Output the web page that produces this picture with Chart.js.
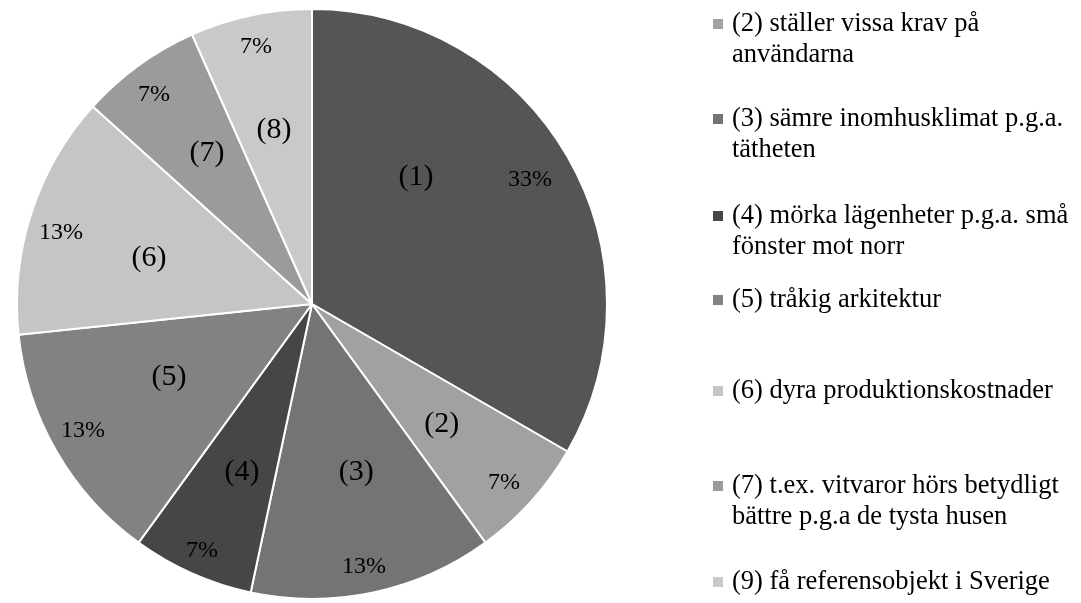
<!DOCTYPE html>
<html>
<head>
<meta charset="utf-8">
<script src="https://cdn.jsdelivr.net/npm/chart.js@4.4.1/dist/chart.umd.min.js"></script>
<style>
  html, body { margin: 0; padding: 0; background: #fff; }
  #wrap { width: 1081px; height: 603px; }
</style>
</head>
<body>
<div id="wrap"><canvas id="pieChart" width="1081" height="603"></canvas></div>
<script>
// slices, clockwise from 12 o'clock (15 answers in total)
var categories = ['(1)', '(2)', '(3)', '(4)', '(5)', '(6)', '(7)', '(8)'];
var counts = [5, 1, 2, 1, 2, 2, 1, 1];
var percentLabels = ['33%', '7%', '13%', '7%', '13%', '13%', '7%', '7%'];
var sliceColors = ['#555555', '#a1a1a1', '#747474', '#464646', '#828282', '#c5c5c5', '#9b9b9b', '#c9c9c9'];

// legend text (the first entry sits above the visible area in the original)
var legendLines = [
    null,
    ['(2) ställer vissa krav på', 'användarna'],
    ['(3) sämre inomhusklimat p.g.a.', 'tätheten'],
    ['(4) mörka lägenheter p.g.a. små', 'fönster mot norr'],
    ['(5) tråkig arkitektur'],
    ['(6) dyra produktionskostnader'],
    ['(7) t.ex. vitvaror hörs betydligt', 'bättre p.g.a de tysta husen'],
    ['(9) få referensobjekt i Sverige']
];

// label placement inside each slice (fraction of radius, angle shift in degrees)
var nameRadius = [0.556, 0.6, 0.59, 0.617, 0.544, 0.574, 0.623, 0.604];
var nameShift = [-20.7, 0.9, -2.7, -1.4, 3, -2.2, 1.2, -0.3];
var pctRadius = [0.85, 0.89, 0.909, 0.916, 0.888, 0.884, 0.888, 0.892];
var pctShift = [0.4, 1, 0.8, 0, 1, -2.2, -1.1, -0.3];
var legendY = [-20, 24, 119, 216, 300, 391, 486, 582];

var serif = '"Liberation Serif", "Times New Roman", serif';

var sliceLabels = {
    id: 'sliceLabels',
    afterDatasetsDraw: function(chart) {
        var ctx = chart.ctx;
        var meta = chart.getDatasetMeta(0);
        ctx.save();
        ctx.fillStyle = '#000';
        ctx.textAlign = 'center';
        ctx.textBaseline = 'middle';
        meta.data.forEach(function(arc, i) {
            var p = arc.getProps(['x', 'y', 'startAngle', 'endAngle', 'outerRadius'], true);
            var mid = (p.startAngle + p.endAngle) / 2;
            var a1 = mid + nameShift[i] * Math.PI / 180;
            var a2 = mid + pctShift[i] * Math.PI / 180;
            ctx.font = '30px ' + serif;
            ctx.fillText(categories[i], p.x + Math.cos(a1) * p.outerRadius * nameRadius[i],
                p.y + Math.sin(a1) * p.outerRadius * nameRadius[i]);
            ctx.font = '24px ' + serif;
            ctx.fillText(percentLabels[i], p.x + Math.cos(a2) * p.outerRadius * pctRadius[i],
                p.y + Math.sin(a2) * p.outerRadius * pctRadius[i]);
        });
        ctx.restore();
    }
};

var sideLegend = {
    id: 'sideLegend',
    afterDraw: function(chart) {
        var ctx = chart.ctx;
        ctx.save();
        ctx.font = '26.5px ' + serif;
        ctx.textBaseline = 'middle';
        ctx.textAlign = 'left';
        legendLines.forEach(function(lines, i) {
            if (!lines) return;
            var y = legendY[i];
            ctx.fillStyle = sliceColors[i];
            ctx.fillRect(713, y - 5, 10, 10);
            ctx.fillStyle = '#000';
            lines.forEach(function(line, k) {
                ctx.fillText(line, 732, y + k * 31);
            });
        });
        ctx.restore();
    }
};

new Chart(document.getElementById('pieChart').getContext('2d'), {
    type: 'pie',
    data: {
        labels: categories,
        datasets: [{
            data: counts,
            backgroundColor: sliceColors,
            borderColor: '#ffffff',
            borderWidth: 2
        }]
    },
    options: {
        responsive: false,
        animation: false,
        layout: { padding: { left: 16, top: 8, right: 473, bottom: 3 } },
        plugins: {
            legend: { display: false },
            tooltip: { enabled: false }
        }
    },
    plugins: [sliceLabels, sideLegend]
});
</script>
</body>
</html>
